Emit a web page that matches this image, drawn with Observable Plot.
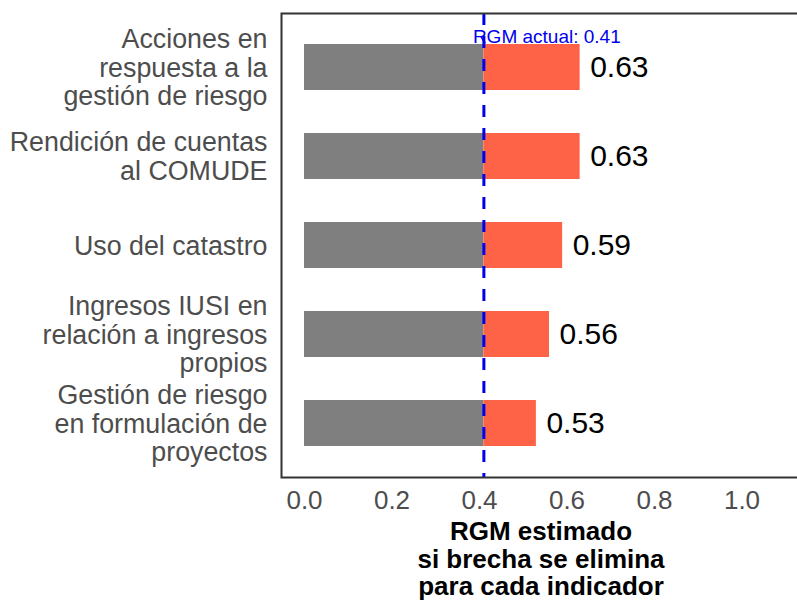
<!DOCTYPE html>
<html>
<head>
<meta charset="utf-8">
<script src="https://cdn.jsdelivr.net/npm/d3@7"></script>
<script src="https://cdn.jsdelivr.net/npm/@observablehq/plot@0.6"></script>
<style>
  html, body { margin: 0; padding: 0; background: #ffffff; }
  #wrap { width: 797px; height: 603px; overflow: hidden; font-family: "Liberation Sans", Arial, sans-serif; }
  #wrap svg { max-width: none !important; }
</style>
</head>
<body>
<div id="wrap"></div>
<script>
// ---- data ----
const categories = [
  "Acciones en respuesta a la gestión de riesgo",
  "Rendición de cuentas al COMUDE",
  "Uso del catastro",
  "Ingresos IUSI en relación a ingresos propios",
  "Gestión de riesgo en formulación de proyectos"
];
const categoryLabels = [
  "Acciones en\nrespuesta a la\ngestión de riesgo",
  "Rendición de cuentas\nal COMUDE",
  "Uso del catastro",
  "Ingresos IUSI en\nrelación a ingresos\npropios",
  "Gestión de riesgo\nen formulación de\nproyectos"
];
const estimated = [0.63, 0.63, 0.59, 0.56, 0.53];
const rgmActual = 0.41;
const xTicks = [0, 0.2, 0.4, 0.6, 0.8, 1.0];
const annotation = "RGM actual: " + rgmActual;
const xTitle = "RGM estimado\nsi brecha se elimina\npara cada indicador";

const rows = categories.map((c, i) => ({
  cat: c, label: categoryLabels[i], value: estimated[i], base: rgmActual
}));

const chart = Plot.plot({
  width: 808,
  height: 603,
  marginLeft: 281,
  marginRight: 8,
  marginTop: 13,
  marginBottom: 126,
  style: { fontFamily: "Liberation Sans, Arial, sans-serif", background: "transparent", overflow: "visible", maxWidth: "none" },
  x: { domain: [-0.0526, 1.1337] },
  y: { domain: categories, paddingInner: 0.485, paddingOuter: 0.336, axis: null },
  marks: [
    Plot.frame({ fill: "white" }),
    Plot.barX(rows, { y: "cat", x1: 0, x2: "base", fill: "#7f7f7f" }),
    Plot.barX(rows, { y: "cat", x1: "base", x2: "value", fill: "#ff6347" }),
    Plot.ruleX([rgmActual], { stroke: "#0000ee", strokeWidth: 3, strokeDasharray: "12,11" }),
    Plot.text(rows, {
      y: "cat", x: "value", text: d => d3.format(".2f")(d.value),
      textAnchor: "start", dx: 10, fontSize: 30, fill: "black"
    }),
    Plot.text([annotation], {
      x: () => rgmActual, y: () => categories[0], text: d => d,
      textAnchor: "start", dx: -11, dy: -31, fontSize: 19, fill: "#0000ee"
    }),
    Plot.text(rows, {
      y: "cat", text: "label", frameAnchor: "left", textAnchor: "end",
      dx: -14, fontSize: 26.8, lineHeight: 1.065, fill: "#4d4d4d"
    }),
    Plot.axisX({
      ticks: xTicks, tickFormat: d3.format(".1f"), tickSize: 0, tickPadding: 13,
      fontSize: 26, color: "#4d4d4d", fill: "#4d4d4d", label: null
    }),
    Plot.text([xTitle], {
      text: d => d, frameAnchor: "bottom", lineAnchor: "top", dy: 43,
      fontSize: 26, fontWeight: "bold", lineHeight: 1.06, fill: "black"
    }),
    Plot.frame({ stroke: "#333333", strokeWidth: 2 })
  ]
});
document.getElementById("wrap").appendChild(chart);
</script>
</body>
</html>
